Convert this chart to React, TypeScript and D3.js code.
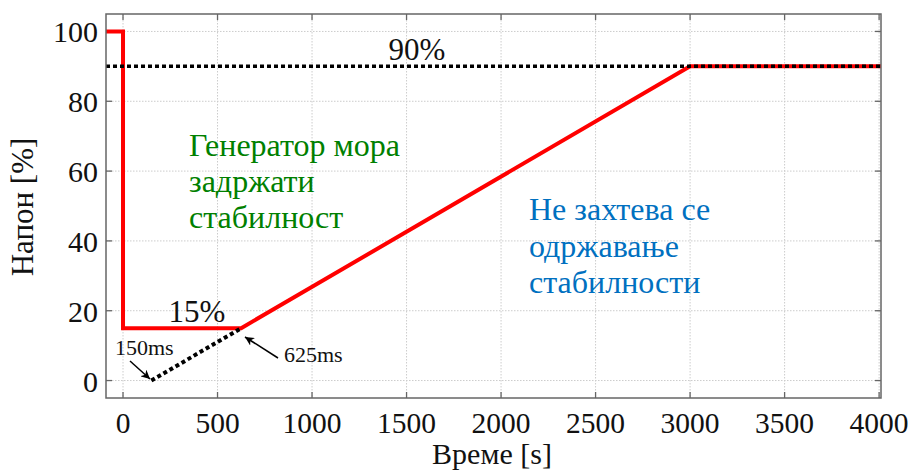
import React from "react";
import * as d3 from "d3";

const W = 915;
const H = 473;

const xTicks = [0, 500, 1000, 1500, 2000, 2500, 3000, 3500, 4000];
const yTicks = [0, 20, 40, 60, 80, 100];
const xDomain = [-90, 4010];
const yDomain = [-5, 105];

const redX = [-90, 0, 0, 625, 3000, 4010];
const redY = [100, 100, 15, 15, 90, 90];
const dotX = [150, 625];
const dotY = [0, 15];
const refLevel = 90;

const greenLines = ["Генератор мора", "задржати", "стабилност"];
const blueLines = ["Не захтева се", "одржавање", "стабилности"];

const FONT = "Liberation Serif, Times New Roman, serif";
const ts = { fontFamily: FONT };

export default function App() {
  const m = { left: 106, right: 881, top: 14, bottom: 398 };
  const x = d3.scaleLinear().domain(xDomain).range([m.left, m.right]);
  const y = d3.scaleLinear().domain(yDomain).range([m.bottom, m.top]);
  const line = d3
    .line<[number, number]>()
    .x((d) => x(d[0]))
    .y((d) => y(d[1]));
  const redPts = redX.map((v, i) => [v, redY[i]] as [number, number]);
  const dotPts = dotX.map((v, i) => [v, dotY[i]] as [number, number]);
  const tickLen = 6;
  const axisColor = "#666";

  return (
    <svg
      width={W}
      height={H}
      style={{ position: "absolute", left: 0, top: 0, background: "#fff" }}
    >
      <defs>
        <marker
          id="arr"
          viewBox="0 0 10 10"
          refX="10"
          refY="5"
          markerWidth="9"
          markerHeight="9"
          orient="auto"
          markerUnits="userSpaceOnUse"
        >
          <path d="M0,0 L10,5 L0,10 L3,5 Z" fill="#000" />
        </marker>
      </defs>
      {xTicks.map((t) => (
        <line
          key={"gx" + t}
          x1={x(t)}
          x2={x(t)}
          y1={m.top}
          y2={m.bottom}
          stroke="#ccc"
          strokeWidth={1}
          strokeDasharray="1.5,1.5"
        />
      ))}
      {yTicks.map((t) => (
        <line
          key={"gy" + t}
          x1={m.left}
          x2={m.right}
          y1={y(t)}
          y2={y(t)}
          stroke="#ccc"
          strokeWidth={1}
          strokeDasharray="1.5,1.5"
        />
      ))}
      {xTicks.map((t) => (
        <g key={"tx" + t}>
          <line x1={x(t)} x2={x(t)} y1={m.bottom} y2={m.bottom - tickLen} stroke={axisColor} strokeWidth={1.3} />
          <line x1={x(t)} x2={x(t)} y1={m.top} y2={m.top + tickLen} stroke={axisColor} strokeWidth={1.3} />
          <text x={x(t)} y={433} textAnchor="middle" fontSize={29.5} fill="#111" style={ts}>
            {String(t)}
          </text>
        </g>
      ))}
      {yTicks.map((t) => (
        <g key={"ty" + t}>
          <line x1={m.left} x2={m.left + tickLen} y1={y(t)} y2={y(t)} stroke={axisColor} strokeWidth={1.3} />
          <line x1={m.right} x2={m.right - tickLen} y1={y(t)} y2={y(t)} stroke={axisColor} strokeWidth={1.3} />
          <text x={98} y={y(t) + 11} textAnchor="end" fontSize={30} fill="#111" style={ts}>
            {String(t)}
          </text>
        </g>
      ))}
      <path d={line(redPts) || ""} fill="none" stroke="#ff0000" strokeWidth={4} strokeLinejoin="miter" />
      <line
        x1={m.left}
        x2={m.right}
        y1={y(refLevel)}
        y2={y(refLevel)}
        stroke="#000"
        strokeWidth={3.5}
        strokeDasharray="4,3"
      />
      <path d={line(dotPts) || ""} fill="none" stroke="#000" strokeWidth={4} strokeDasharray="4,3" />
      <rect
        x={m.left}
        y={m.top}
        width={m.right - m.left}
        height={m.bottom - m.top}
        fill="none"
        stroke={axisColor}
        strokeWidth={1.5}
      />
      <text x={417} y={60} textAnchor="middle" fontSize={31} fill="#111" style={ts}>
        90%
      </text>
      <text x={197} y={322} textAnchor="middle" fontSize={31} fill="#111" style={ts}>
        15%
      </text>
      <text x={115} y={355} fontSize={22} fill="#111" style={ts}>
        150ms
      </text>
      <text x={284} y={362} fontSize={22} fill="#111" style={ts}>
        625ms
      </text>
      <line x1={130} y1={361} x2={150} y2={379} stroke="#000" strokeWidth={1.5} markerEnd="url(#arr)" />
      <line x1={278} y1={358} x2={245} y2={337} stroke="#000" strokeWidth={1.5} markerEnd="url(#arr)" />
      {greenLines.map((s, i) => (
        <text key={s} x={189} y={156 + i * 36} fontSize={32} fill="#008000" style={ts}>
          {s}
        </text>
      ))}
      {blueLines.map((s, i) => (
        <text key={s} x={529} y={220 + i * 36.5} fontSize={32} fill="#0070c0" style={ts}>
          {s}
        </text>
      ))}
      <text x={492} y={464} textAnchor="middle" fontSize={30} fill="#111" style={ts}>
        Време [s]
      </text>
      <text
        transform={`translate(33, 207) rotate(-90)`}
        textAnchor="middle"
        fontSize={31}
        fill="#111"
        style={ts}
      >
        Напон [%]
      </text>
    </svg>
  );
}
